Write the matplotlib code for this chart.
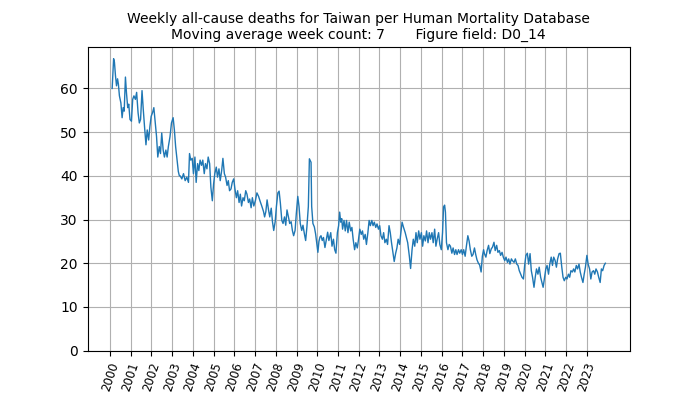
import matplotlib
matplotlib.use("Agg")
import matplotlib.pyplot as plt

years = [
 2000.11,2000.18,2000.22,2000.27,2000.32,2000.37,2000.41,2000.46,2000.53,2000.59,2000.64,2000.69,2000.75,2000.80,2000.86,2000.91,2000.97,
 2001.04,2001.10,2001.16,2001.23,2001.29,2001.36,2001.42,2001.48,2001.55,2001.61,2001.67,2001.74,2001.80,2001.87,2001.93,2001.99,
 2002.06,2002.12,2002.18,2002.25,2002.31,2002.38,2002.44,2002.50,2002.57,2002.63,2002.70,2002.76,2002.82,2002.90,2002.97,
 2003.05,2003.11,2003.17,2003.24,2003.30,2003.35,2003.39,2003.47,2003.55,2003.63,2003.71,2003.79,2003.84,2003.90,2003.97,
 2004.03,2004.10,2004.16,2004.23,2004.29,2004.35,2004.42,2004.48,2004.55,2004.61,2004.68,2004.74,2004.81,2004.87,2004.94,
 2005.00,2005.06,2005.13,2005.19,2005.26,2005.32,2005.39,2005.45,2005.52,2005.58,2005.65,2005.71,2005.77,2005.84,2005.90,2005.97,
 2006.03,2006.10,2006.16,2006.23,2006.29,2006.35,2006.42,2006.48,2006.55,2006.61,2006.68,2006.74,2006.81,2006.87,2006.94,
 2007.02,2007.09,2007.17,2007.25,2007.33,2007.41,2007.46,2007.52,2007.58,2007.65,2007.71,2007.78,2007.84,2007.90,2007.97,
 2008.03,2008.10,2008.16,2008.22,2008.29,2008.35,2008.42,2008.48,2008.54,2008.61,2008.67,2008.74,2008.80,2008.86,2008.93,2008.99,
 2009.06,2009.12,2009.18,2009.25,2009.31,2009.38,2009.44,2009.50,2009.57,2009.60,2009.62,2009.66,2009.70,2009.73,2009.79,2009.86,2009.92,2009.98,
 2010.03,2010.08,2010.13,2010.18,2010.24,2010.30,2010.37,2010.43,2010.50,2010.56,2010.65,2010.71,2010.78,2010.84,2010.90,2010.97,
 2011.03,2011.08,2011.13,2011.18,2011.22,2011.29,2011.35,2011.41,2011.48,2011.54,2011.61,2011.67,2011.73,2011.80,2011.86,2011.93,2011.99,
 2012.05,2012.12,2012.18,2012.24,2012.31,2012.37,2012.44,2012.50,2012.56,2012.63,2012.69,2012.75,2012.82,2012.88,2012.95,
 2013.01,2013.07,2013.14,2013.20,2013.26,2013.33,2013.39,2013.46,2013.52,2013.58,2013.65,2013.71,2013.78,2013.84,2013.90,2013.97,
 2014.03,2014.09,2014.16,2014.24,2014.36,2014.44,2014.50,2014.57,2014.63,2014.70,2014.76,2014.82,2014.89,2014.95,
 2015.02,2015.08,2015.14,2015.21,2015.27,2015.34,2015.40,2015.46,2015.53,2015.59,2015.66,2015.72,2015.78,2015.85,2015.91,2015.98,
 2016.04,2016.09,2016.14,2016.18,2016.23,2016.30,2016.36,2016.42,2016.49,2016.55,2016.62,2016.68,2016.74,2016.81,2016.87,2016.94,
 2017.00,2017.06,2017.13,2017.19,2017.26,2017.32,2017.38,2017.45,2017.51,2017.58,2017.64,2017.70,2017.77,2017.83,2017.90,2017.96,
 2018.02,2018.06,2018.13,2018.19,2018.26,2018.32,2018.39,2018.45,2018.52,2018.58,2018.65,2018.71,2018.78,2018.84,2018.91,2018.97,
 2019.04,2019.10,2019.17,2019.23,2019.29,2019.36,2019.41,2019.49,2019.55,2019.62,2019.68,2019.74,2019.81,2019.87,2019.94,
 2020.00,2020.06,2020.13,2020.19,2020.26,2020.32,2020.38,2020.45,2020.51,2020.57,2020.64,2020.70,2020.77,2020.83,2020.89,2020.96,
 2021.02,2021.08,2021.15,2021.21,2021.28,2021.34,2021.40,2021.47,2021.53,2021.59,2021.66,2021.72,2021.79,2021.85,2021.91,2021.98,
 2022.04,2022.11,2022.17,2022.23,2022.30,2022.36,2022.42,2022.49,2022.55,2022.62,2022.68,2022.74,2022.81,2022.87,2022.93,
 2023.00,2023.06,2023.13,2023.19,2023.25,2023.32,2023.38,2023.44,2023.51,2023.57,2023.64,2023.70,2023.76,2023.83,2023.89,
]

deaths = [
 60.0,66.8,66.0,62.9,60.6,62.2,61.0,58.3,56.7,53.3,55.6,54.8,62.6,59.0,55.6,56.4,52.9,
 52.5,57.5,58.3,57.5,59.1,54.4,52.1,52.9,59.5,55.2,51.3,47.1,50.5,48.2,51.3,53.6,
 54.5,55.6,52.5,49.0,44.3,46.7,45.1,49.8,45.9,44.3,45.9,44.3,46.7,49.0,52.1,
 53.3,50.5,46.7,43.6,41.0,40.0,40.0,39.3,40.5,38.9,39.7,38.5,45.1,43.6,44.0,
 40.5,44.3,38.5,42.8,41.2,43.6,42.4,43.6,40.5,42.8,41.6,44.3,42.8,37.4,34.3,
 38.1,40.5,42.0,39.7,41.6,38.9,41.2,44.0,40.5,39.7,37.8,38.9,36.6,37.0,38.5,39.3,
 37.0,35.0,36.6,33.9,35.8,33.1,35.0,34.3,36.6,35.8,33.9,34.7,32.7,35.0,33.1,
 34.4,36.1,35.3,34.1,33.0,31.8,30.6,31.8,34.5,32.2,30.6,32.6,29.5,27.5,29.5,
 33.0,36.1,36.5,33.8,29.8,29.1,30.6,28.7,32.2,30.6,29.1,29.5,27.5,26.3,27.5,31.4,
 35.3,33.0,29.1,27.5,28.7,26.7,25.2,28.3,33.0,40.0,43.9,43.5,43.1,33.0,29.1,28.3,26.7,24.5,
 22.5,25.0,26.0,26.3,25.2,25.9,23.6,25.2,27.1,25.2,27.0,23.9,25.5,23.1,22.3,27.0,
 28.6,31.7,29.4,30.2,27.8,29.8,27.4,29.8,27.0,29.4,27.4,28.2,25.5,23.1,24.7,23.5,25.5,
 27.8,26.6,27.4,25.5,26.6,24.3,27.0,29.8,28.6,29.8,28.6,29.4,28.2,29.0,27.8,
 28.6,26.3,25.5,27.0,24.7,25.5,24.3,28.6,27.0,24.7,22.3,20.4,22.3,23.5,25.5,24.3,
 27.0,29.4,28.2,27.0,24.7,21.6,18.8,23.1,25.5,23.9,27.0,24.7,27.4,25.5,
 27.0,23.9,26.3,25.1,27.4,24.7,27.0,25.5,27.0,24.7,27.8,23.9,25.5,27.0,24.3,23.1,
 27.0,32.9,33.3,31.7,24.7,23.1,24.3,23.9,22.3,23.5,22.0,23.1,22.0,23.1,22.3,23.1,
 22.0,23.1,21.6,23.9,26.3,25.1,23.1,21.6,22.0,23.5,22.0,20.8,20.0,19.6,18.0,21.6,
 23.1,22.2,21.4,22.9,24.1,22.2,23.3,23.7,24.8,22.9,24.1,22.5,22.9,21.8,22.5,21.4,
 20.6,21.4,20.2,21.0,19.8,21.0,20.6,20.2,21.0,19.8,19.5,18.3,17.5,16.8,16.4,
 19.5,21.8,22.3,19.8,22.2,18.3,16.8,14.5,16.8,18.7,17.5,19.1,16.8,15.6,14.5,16.8,
 18.7,19.5,17.5,19.8,21.4,19.5,21.4,20.6,19.1,21.0,22.2,22.3,19.1,16.8,16.0,16.8,
 16.4,17.5,16.8,18.3,18.0,18.7,18.0,19.5,18.7,19.8,18.0,16.8,15.6,17.5,19.1,
 21.8,19.8,18.7,16.4,18.0,18.3,17.5,18.7,18.0,16.8,15.6,18.7,18.3,19.5,20.0,
]

tick_years = list(range(2000, 2024))
tick_labels = [str(y) for y in tick_years]

title = ("Weekly all-cause deaths for Taiwan per Human Mortality Database\n"
         "Moving average week count: 7       Figure field: D0_14")

fig, ax = plt.subplots(figsize=(7, 3.94), dpi=100)
ax.plot(years, deaths, color="#1f77b4", linewidth=1.0)
ax.set_ylim(bottom=0)
ax.set_xticks(tick_years)
ax.set_xticklabels(tick_labels, rotation=72, fontsize=8.5)
ax.grid(True)
ax.set_title(title, fontsize=10)
fig.savefig("out.png", dpi=100)
